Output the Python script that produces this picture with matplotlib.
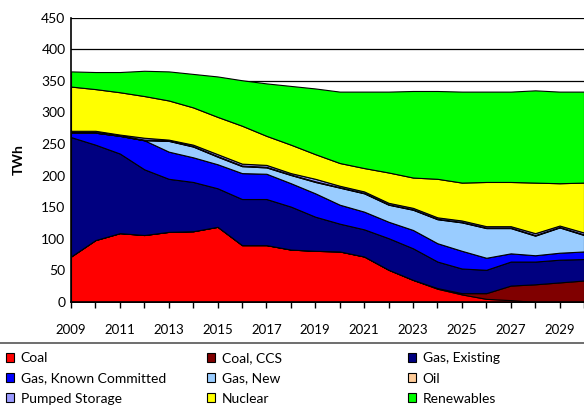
import matplotlib.pyplot as plt
from matplotlib.patches import Patch
from matplotlib.lines import Line2D

plt.rcParams['font.family'] = ['Lato', 'DejaVu Sans']

# Generation by source, TWh
years = list(range(2009, 2031))
coal = [72, 98, 109, 106, 111, 112, 119, 90, 90, 83, 81, 80, 72, 51, 35, 21, 12, 5, 3, 0, 0, 0]
coal_ccs = [0, 0, 0, 0, 0, 0, 0, 0, 0, 0, 0, 0, 0, 0, 0, 1, 2, 9, 23, 28, 31, 34]
gas_existing = [189, 151, 126, 104, 84, 78, 61, 73, 73, 68, 54, 44, 43, 50, 50, 42, 39, 37, 38, 36, 36, 34]
gas_committed = [7, 19, 28, 46, 43, 39, 38, 41, 40, 37, 37, 30, 28, 26, 29, 29, 28, 19, 13, 10, 11, 12]
gas_new = [0, 0, 0, 0, 17, 17, 12, 11, 10, 13, 18, 27, 29, 27, 32, 38, 45, 47, 40, 31, 40, 26]
oil = [1.0, 1.0, 0.8, 1.0, 0.7, 0.8, 1.0, 1.0, 1.0, 0.8, 1.0, 0.8, 0.8, 0.8, 0.8, 0.8, 0.8, 0.8, 0.8, 1.0, 0.8, 1.0]
pumped = [2.0, 2.0, 1.2, 3.0, 1.3, 2.2, 3.0, 3.0, 3.0, 2.2, 4.0, 2.2, 2.2, 2.2, 2.2, 2.2, 2.2, 2.2, 2.2, 3.0, 2.2, 3.0]
nuclear = [70, 66, 67, 66, 62, 59, 59, 60, 46, 45, 39, 36, 37, 48, 48, 61, 60, 70, 70, 80, 67, 79]
renewables = [24, 27, 32, 40, 46, 53, 64, 72, 83, 93, 104, 113, 121, 128, 137, 139, 144, 143, 143, 146, 145, 144]

labels = ['Coal', 'Coal, CCS', 'Gas, Existing', 'Gas, Known Committed', 'Gas, New',
          'Oil', 'Pumped Storage', 'Nuclear', 'Renewables']
colors = ['#FF0000', '#800000', '#000080', '#0000FF', '#99CCFF',
          '#FFCC99', '#9999FF', '#FFFF00', '#00FF00']

fig = plt.figure(figsize=(5.84, 4.05), dpi=100)
ax = fig.add_axes([71/584, 103/405, 513/584, 284.3/405])

ax.stackplot(years, coal, coal_ccs, gas_existing, gas_committed, gas_new,
             oil, pumped, nuclear, renewables,
             colors=colors, edgecolor='black', linewidth=0.8, zorder=2)

ax.set_xlim(2009, 2009 + 513/24.7)
ax.set_ylim(0, 450)
ax.set_yticks(range(0, 451, 50))
ax.grid(axis='y', color='black', linewidth=0.9, zorder=0)
ax.set_axisbelow(True)

ax.set_xticks(years)
ax.set_xticklabels([str(y) if (y - 2009) % 2 == 0 else '' for y in years])
ax.tick_params(axis='x', direction='out', length=4, width=1, pad=12, labelsize=9.5)
ax.tick_params(axis='y', length=0, pad=4, labelsize=10)

for s in ['top', 'right']:
    ax.spines[s].set_visible(False)
for s in ['left', 'bottom']:
    ax.spines[s].set_linewidth(1.2)
    ax.spines[s].set_color('black')

ax.set_ylabel('TWh', fontweight='bold', fontsize=10, labelpad=12)

# legend: three columns, read row by row
handles = [Patch(facecolor=c, edgecolor='black', linewidth=0.8) for c in colors]
col_x = [6, 207, 408]
for col in range(3):
    idx = [col, col + 3, col + 6]
    fig.legend([handles[i] for i in idx], [labels[i] for i in idx],
               loc='upper left', bbox_to_anchor=(col_x[col]/584, 1 - 352.5/405),
               frameon=False, fontsize=10, handlelength=0.6, handleheight=0.6,
               handletextpad=0.45, labelspacing=0.58, borderpad=0, borderaxespad=0)

fig.add_artist(Line2D([0, 1], [1 - 343/405] * 2, color='#555555', linewidth=1.2,
                      transform=fig.transFigure))

fig.savefig('out.png', dpi=100)
